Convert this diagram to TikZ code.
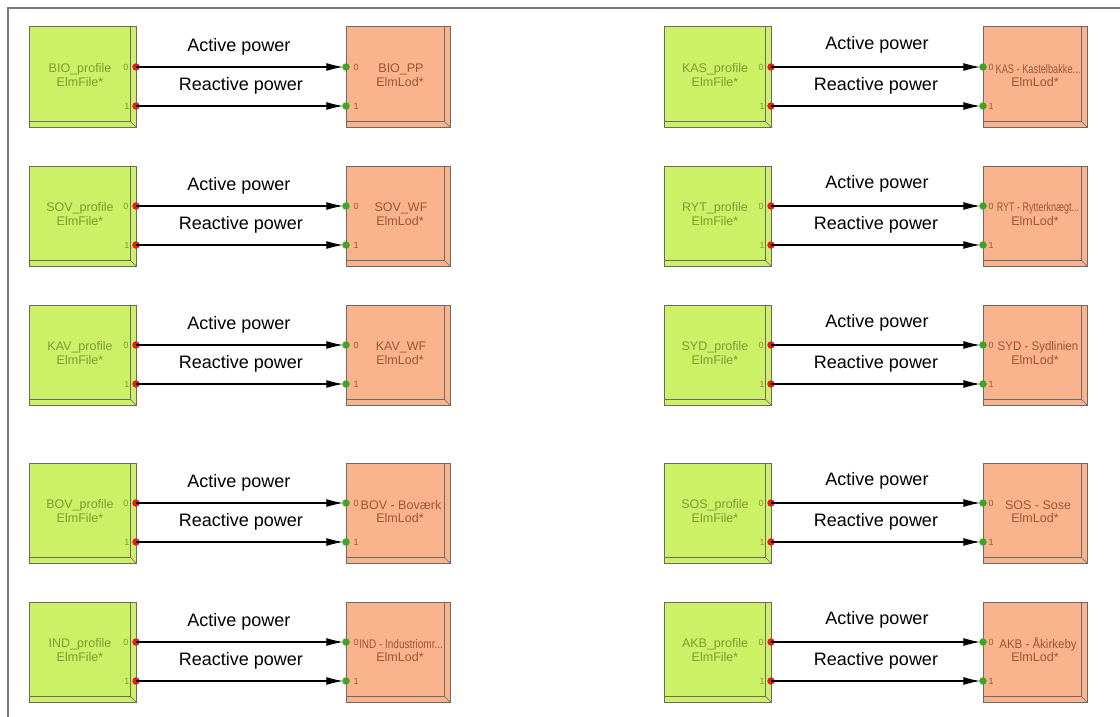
\documentclass[tikz,border=0pt]{standalone}
\usepackage{fontspec}
\setmainfont{Liberation Sans}
\usetikzlibrary{arrows.meta,calc}
\definecolor{gfill}{HTML}{CCF066}
\definecolor{ofill}{HTML}{F9B48E}
\definecolor{gtext}{HTML}{7E9C2E}
\definecolor{otext}{HTML}{9E5436}
\definecolor{bord}{HTML}{6A6A6A}
\definecolor{frame}{HTML}{7A7A7A}
\definecolor{pred}{HTML}{E02020}
\definecolor{pgreen}{HTML}{3FA52A}
\tikzset{
  filebox/.style={draw=bord, line width=1pt, fill=gfill, minimum width=107pt, minimum height=100pt, inner sep=0pt, outer sep=0pt},
  lodbox/.style={draw=bord, line width=1pt, fill=ofill, minimum width=104pt, minimum height=100pt, inner sep=0pt, outer sep=0pt},
  bevel/.style={draw=bord, line width=0.6pt},
  outport/.style={circle, fill=pred, minimum size=7.5pt, inner sep=0pt, outer sep=0pt},
  inport/.style={circle, fill=pgreen, minimum size=7.5pt, inner sep=0pt, outer sep=0pt},
  sig/.style={draw=black, line width=1.2pt, -{Latex[length=17pt,width=8pt]}, shorten >=-1pt},
  lbl/.style={font=\fontsize{18}{20}\selectfont, inner sep=0pt},
  gtxt/.style={font=\fontsize{12.5}{13}\selectfont, text=gtext, inner sep=0pt},
  otxt/.style={font=\fontsize{12.5}{13}\selectfont, text=otext, inner sep=0pt},
  gnum/.style={font=\fontsize{9}{9}\selectfont, text=gtext, inner sep=0pt},
  onum/.style={font=\fontsize{9}{9}\selectfont, text=otext, inner sep=0pt},
  framel/.style={draw=frame, line width=1.6pt}
}
\newcommand{\bevelbox}[1]{%
  \draw[bevel] ($(#1.north east)+(-6,0)$) -- ($(#1.south east)+(-6,-6)$) -- ($(#1.south west)+(0,-6)$);
  \draw[bevel] ($(#1.south east)+(-6,-6)$) -- (#1.south east);
}
\begin{document}
\begin{tikzpicture}[x=1pt,y=-1pt]
\useasboundingbox (0,0) rectangle (1120,717);
\draw[framel] (8,717) -- (8,8) -- (1120,8);
\foreach \i/\y/\ln/\lt/\rn/\rt in {
  1/67/BIO/{BIO\_PP}/KAS/{\scalebox{0.74}[1]{KAS - Kastelbakke...}},
  2/206/SOV/{SOV\_WF}/RYT/{\scalebox{0.72}[1]{RYT - Rytterknægt...}},
  3/345/KAV/{KAV\_WF}/SYD/{\scalebox{0.92}[1]{SYD - Sydlinien}},
  4/503/BOV/{BOV - Boværk}/SOS/{SOS - Sose},
  5/642/IND/{\scalebox{0.8}[1]{IND - Industriomr...}}/AKB/{\scalebox{0.92}[1]{AKB - Åkirkeby}}}
{
  % left pair
  \node[filebox] (gL\i) at (82.5,\y+10) {};
  \node[lodbox] (oL\i) at (398,\y+10) {};
  \bevelbox{gL\i}
  \bevelbox{oL\i}
  \node[gtxt] (gLn\i) at (80,\y+2) {\ln\_profile};
  \node[gtxt] (gLt\i) at (80,\y+15) {ElmFile*};
  \node[otxt] (oLn\i) at (401,\y+2) {\lt};
  \node[otxt] (oLt\i) at (400,\y+15) {ElmLod*};
  \node[gnum] (gLa\i) at (126,\y) {0};
  \node[gnum] (gLb\i) at (127,\y+39) {1};
  \node[onum] (oLa\i) at (356,\y) {0};
  \node[onum] (oLb\i) at (356,\y+39) {1};
  \node[outport] (pLa\i) at (gL\i.east |- 0,\y) {};
  \node[outport] (pLb\i) at (gL\i.east |- 0,\y+39) {};
  \node[inport] (qLa\i) at (oL\i.west |- 0,\y) {};
  \node[inport] (qLb\i) at (oL\i.west |- 0,\y+39) {};
  \draw[sig] (pLa\i.center) -- (qLa\i.west);
  \draw[sig] (pLb\i.center) -- (qLb\i.west);
  \node[lbl] (aL\i) at (239,\y-20) {Active power};
  \node[lbl] (rL\i) at (241,\y+19) {Reactive power};
  % right pair
  \node[filebox] (gR\i) at (717.5,\y+10) {};
  \node[lodbox] (oR\i) at (1035,\y+10) {};
  \bevelbox{gR\i}
  \bevelbox{oR\i}
  \node[gtxt] (gRn\i) at (715,\y+2) {\rn\_profile};
  \node[gtxt] (gRt\i) at (715,\y+15) {ElmFile*};
  \node[otxt] (oRn\i) at (1038,\y+2) {\rt};
  \node[otxt] (oRt\i) at (1035,\y+15) {ElmLod*};
  \node[gnum] (gRa\i) at (761,\y) {0};
  \node[gnum] (gRb\i) at (762,\y+39) {1};
  \node[onum] (oRa\i) at (991,\y) {0};
  \node[onum] (oRb\i) at (991,\y+39) {1};
  \node[outport] (pRa\i) at (gR\i.east |- 0,\y) {};
  \node[outport] (pRb\i) at (gR\i.east |- 0,\y+39) {};
  \node[inport] (qRa\i) at (oR\i.west |- 0,\y) {};
  \node[inport] (qRb\i) at (oR\i.west |- 0,\y+39) {};
  \draw[sig] (pRa\i.center) -- (qRa\i.west);
  \draw[sig] (pRb\i.center) -- (qRb\i.west);
  \node[lbl] (aR\i) at (877,\y-22) {Active power};
  \node[lbl] (rR\i) at (876,\y+19) {Reactive power};
}
\end{tikzpicture}
\end{document}
